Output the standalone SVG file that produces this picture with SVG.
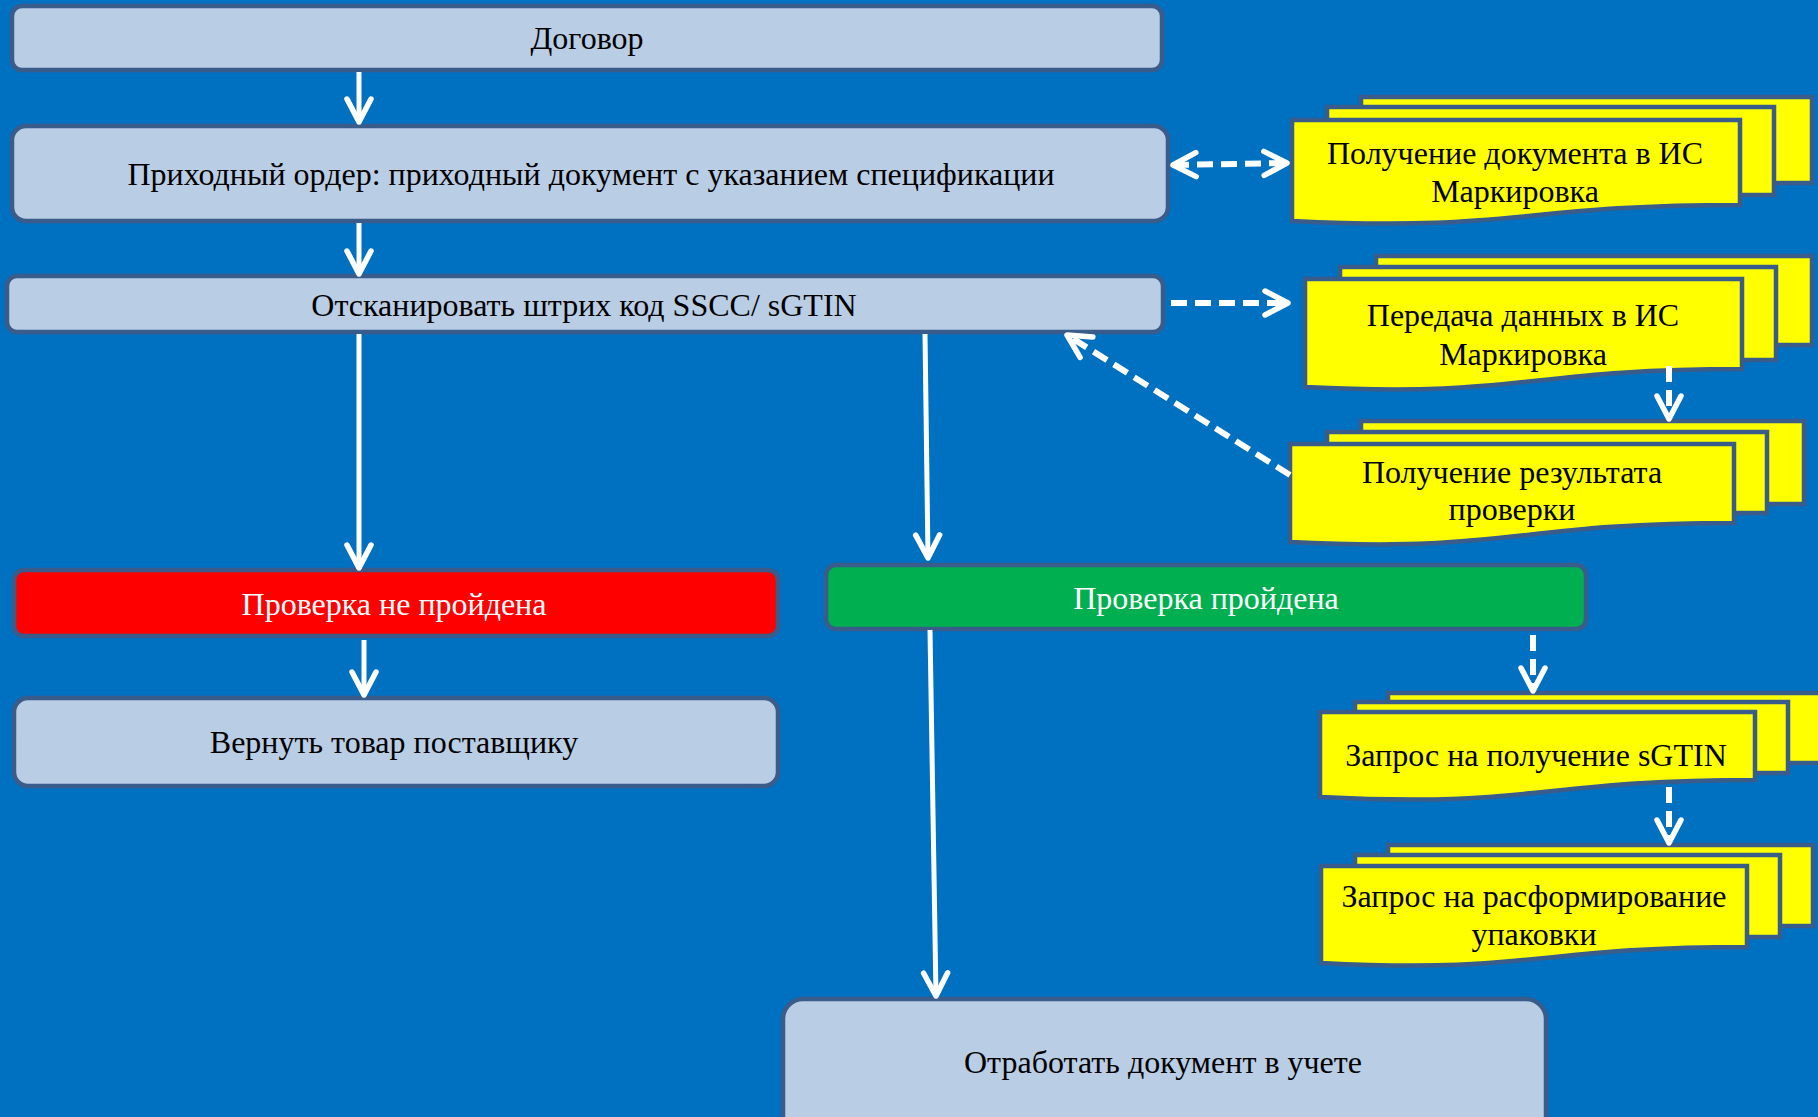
<svg xmlns="http://www.w3.org/2000/svg" width="1818" height="1117" viewBox="0 0 1818 1117">
  <defs>
    <style>
      .box { fill: #B9CDE5; stroke: #3A5C8A; stroke-width: 4.5; }
      .red { fill: #FF0000; stroke: #3A5C8A; stroke-width: 4.5; }
      .green { fill: #00B050; stroke: #3A5C8A; stroke-width: 4.5; }
      .doc { fill: #FFFF00; stroke: #3A5C8A; stroke-width: 4.5; stroke-linejoin: miter; }
      .t { font-family: "Liberation Serif", "Times New Roman", serif; font-size: 32px; fill: #000; text-anchor: middle; }
      .tw { fill: #fff; }
      .ty { font-family: "Liberation Serif", "Times New Roman", serif; font-size: 32px; fill: #000; text-anchor: middle; }
      .solid { stroke: #fff; stroke-width: 5; fill: none; marker-end: url(#ah); }
      .dash { stroke: #fff; stroke-width: 6; fill: none; stroke-dasharray: 16 8; marker-end: url(#ah); }
    </style>
    <marker id="ah" viewBox="-30 -16 34 32" refX="0" refY="0" markerWidth="34" markerHeight="32" markerUnits="userSpaceOnUse" orient="auto-start-reverse">
      <path d="M-23,-12 L0,0 L-23,12" fill="none" stroke="#fff" stroke-width="5.5" stroke-linecap="round" stroke-linejoin="round"/>
    </marker>
  </defs>

  <rect x="0" y="0" width="1818" height="1117" fill="#0070C0"/>

  <g id="n-dogovor">
    <rect class="box" x="12" y="6" width="1150" height="64" rx="10"/>
    <text class="t" x="587" y="49">Договор</text>
  </g>
  <g id="n-prihod">
    <rect class="box" x="12" y="126" width="1156" height="95" rx="14"/>
    <text class="t" x="591" y="185">Приходный ордер: приходный документ с указанием спецификации</text>
  </g>
  <g id="n-scan">
    <rect class="box" x="7" y="276" width="1156" height="56" rx="10"/>
    <text class="t" x="584" y="316">Отсканировать штрих код SSCC/ sGTIN</text>
  </g>
  <g id="n-fail">
    <rect class="red" x="14" y="570" width="764" height="66" rx="10"/>
    <text class="t tw" x="394" y="615">Проверка не пройдена</text>
  </g>
  <g id="n-return">
    <rect class="box" x="14" y="698" width="764" height="88" rx="14"/>
    <text class="t" x="394" y="753">Вернуть товар поставщику</text>
  </g>
  <g id="n-pass">
    <rect class="green" x="826" y="565" width="760" height="64" rx="10"/>
    <text class="t tw" x="1206" y="609">Проверка пройдена</text>
  </g>
  <g id="n-process">
    <rect class="box" x="783" y="999" width="763" height="150" rx="20"/>
    <text class="t" x="1163" y="1073">Отработать документ в учете</text>
  </g>

  <g id="n-get-doc">
    <rect class="doc" x="1361" y="97" width="451" height="86"/>
    <rect class="doc" x="1327" y="107" width="447" height="88"/>
    <path class="doc" d="M1292,120 H1740 V205 C1516,205 1516,232 1292,221 Z"/>
    <text class="ty" x="1515" y="164">Получение документа в ИС</text>
    <text class="ty" x="1515" y="202">Маркировка</text>
  </g>
  <g id="n-send">
    <rect class="doc" x="1376" y="256" width="436" height="89"/>
    <rect class="doc" x="1340" y="267" width="436" height="93"/>
    <path class="doc" d="M1305,279 H1742 V369 C1523,369 1523,398 1305,387 Z"/>
    <text class="ty" x="1523" y="326">Передача данных в ИС</text>
    <text class="ty" x="1523" y="365">Маркировка</text>
  </g>
  <g id="n-result">
    <rect class="doc" x="1361" y="421" width="443" height="83"/>
    <rect class="doc" x="1327" y="432" width="440" height="81"/>
    <path class="doc" d="M1290,444 H1734 V523 C1512,523 1512,553 1290,542 Z"/>
    <text class="ty" x="1512" y="483">Получение результата</text>
    <text class="ty" x="1512" y="520">проверки</text>
  </g>
  <g id="n-req-sgtin">
    <rect class="doc" x="1388" y="693" width="442" height="70"/>
    <rect class="doc" x="1355" y="702" width="433" height="71"/>
    <path class="doc" d="M1320,712 H1755 V780 C1537,780 1537,808 1320,797 Z"/>
    <text class="ty" x="1536" y="766">Запрос на получение sGTIN</text>
  </g>
  <g id="n-req-unpack">
    <rect class="doc" x="1388" y="845" width="425" height="81"/>
    <rect class="doc" x="1355" y="855" width="425" height="82"/>
    <path class="doc" d="M1321,866 H1747 V947 C1534,947 1534,974 1321,963 Z"/>
    <text class="ty" x="1534" y="907">Запрос на расформирование</text>
    <text class="ty" x="1534" y="945">упаковки</text>
  </g>

  <g id="connectors">
    <line class="solid" x1="359" y1="72" x2="359" y2="122"/>
    <line class="solid" x1="359" y1="223" x2="359" y2="274"/>
    <line class="solid" x1="359" y1="334" x2="359" y2="568"/>
    <line class="solid" x1="925" y1="334" x2="928" y2="558"/>
    <line class="solid" x1="364" y1="640" x2="364" y2="695"/>
    <line class="solid" x1="930" y1="630" x2="936" y2="996"/>
    <line class="dash" x1="1173" y1="165" x2="1287" y2="163" style="marker-start:url(#ah)"/>
    <line class="dash" x1="1171" y1="303" x2="1288" y2="303"/>
    <line class="dash" x1="1290" y1="475" x2="1067" y2="335"/>
    <line class="dash" x1="1669" y1="366" x2="1669" y2="419"/>
    <line class="dash" x1="1533" y1="635" x2="1533" y2="691"/>
    <line class="dash" x1="1669" y1="787" x2="1669" y2="843"/>
  </g>
</svg>
